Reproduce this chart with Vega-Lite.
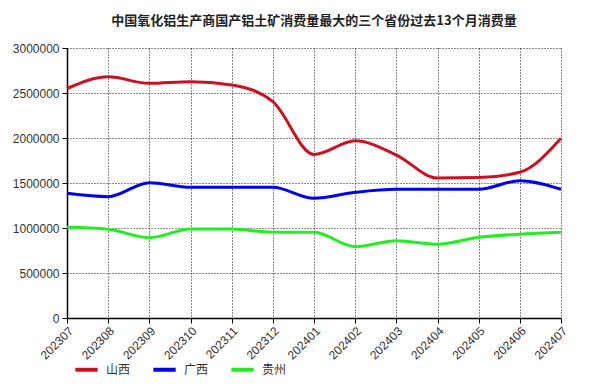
{
  "$schema": "https://vega.github.io/schema/vega-lite/v6.json",
  "width": 494,
  "height": 270,
  "autosize": "none",
  "padding": {"left": 67, "top": 48, "right": 40, "bottom": 73},
  "background": "white",
  "title": {
    "text": "中国氧化铝生产商国产铝土矿消费量最大的三个省份过去13个月消费量",
    "fontSize": 13,
    "fontWeight": "bold",
    "font": "Noto Sans CJK SC",
    "color": "#222222",
    "anchor": "middle",
    "offset": 14
  },
  "config": {
    "view": {"stroke": null},
    "font": "Liberation Sans",
    "axis": {
      "labelFont": "Liberation Sans",
      "labelFontSize": 12,
      "labelColor": "#333333",
      "domainColor": "#000000",
      "domainWidth": 1.5,
      "tickColor": "#000000",
      "tickSize": 5,
      "gridColor": "#000000",
      "gridDash": [1, 2],
      "gridOpacity": 0.9,
      "gridWidth": 1
    }
  },
  "data": {
    "values": [
      {"month": "202307", "province": "山西", "value": 2550000},
      {"month": "202308", "province": "山西", "value": 2680000},
      {"month": "202309", "province": "山西", "value": 2607000},
      {"month": "202310", "province": "山西", "value": 2626000},
      {"month": "202311", "province": "山西", "value": 2589000},
      {"month": "202312", "province": "山西", "value": 2404000},
      {"month": "202401", "province": "山西", "value": 1818000},
      {"month": "202402", "province": "山西", "value": 1970000},
      {"month": "202403", "province": "山西", "value": 1811000},
      {"month": "202404", "province": "山西", "value": 1555000},
      {"month": "202405", "province": "山西", "value": 1560000},
      {"month": "202406", "province": "山西", "value": 1619000},
      {"month": "202407", "province": "山西", "value": 1996000},
      {"month": "202307", "province": "广西", "value": 1385000},
      {"month": "202308", "province": "广西", "value": 1348000},
      {"month": "202309", "province": "广西", "value": 1504000},
      {"month": "202310", "province": "广西", "value": 1452000},
      {"month": "202311", "province": "广西", "value": 1452000},
      {"month": "202312", "province": "广西", "value": 1452000},
      {"month": "202401", "province": "广西", "value": 1330000},
      {"month": "202402", "province": "广西", "value": 1396000},
      {"month": "202403", "province": "广西", "value": 1430000},
      {"month": "202404", "province": "广西", "value": 1430000},
      {"month": "202405", "province": "广西", "value": 1430000},
      {"month": "202406", "province": "广西", "value": 1526000},
      {"month": "202407", "province": "广西", "value": 1430000},
      {"month": "202307", "province": "贵州", "value": 1007000},
      {"month": "202308", "province": "贵州", "value": 985000},
      {"month": "202309", "province": "贵州", "value": 893000},
      {"month": "202310", "province": "贵州", "value": 989000},
      {"month": "202311", "province": "贵州", "value": 989000},
      {"month": "202312", "province": "贵州", "value": 952000},
      {"month": "202401", "province": "贵州", "value": 952000},
      {"month": "202402", "province": "贵州", "value": 793000},
      {"month": "202403", "province": "贵州", "value": 859000},
      {"month": "202404", "province": "贵州", "value": 819000},
      {"month": "202405", "province": "贵州", "value": 896000},
      {"month": "202406", "province": "贵州", "value": 930000},
      {"month": "202407", "province": "贵州", "value": 952000}
    ]
  },
  "mark": {"type": "line", "interpolate": "monotone", "strokeWidth": 3},
  "encoding": {
    "x": {
      "field": "month",
      "type": "ordinal",
      "scale": {"type": "point", "padding": 0},
      "axis": {"title": null, "labelAngle": -45, "grid": true, "labelPadding": 2}
    },
    "y": {
      "field": "value",
      "type": "quantitative",
      "scale": {"domain": [0, 3000000], "nice": false},
      "axis": {"title": null, "values": [0, 500000, 1000000, 1500000, 2000000, 2500000, 3000000], "format": "d", "grid": true, "labelPadding": 3}
    },
    "color": {
      "field": "province",
      "type": "nominal",
      "scale": {"domain": ["山西", "广西", "贵州"], "range": ["#CC1122", "#0000EE", "#22EE22"]},
      "legend": {
        "title": null,
        "orient": "none",
        "legendX": 6,
        "legendY": 308,
        "direction": "horizontal",
        "symbolType": "stroke",
        "symbolStrokeWidth": 4,
        "symbolSize": 500,
        "labelFont": "Noto Sans CJK SC",
        "labelFontSize": 12,
        "labelColor": "#333333",
        "labelOffset": 6,
        "columnPadding": 14
      }
    }
  }
}
